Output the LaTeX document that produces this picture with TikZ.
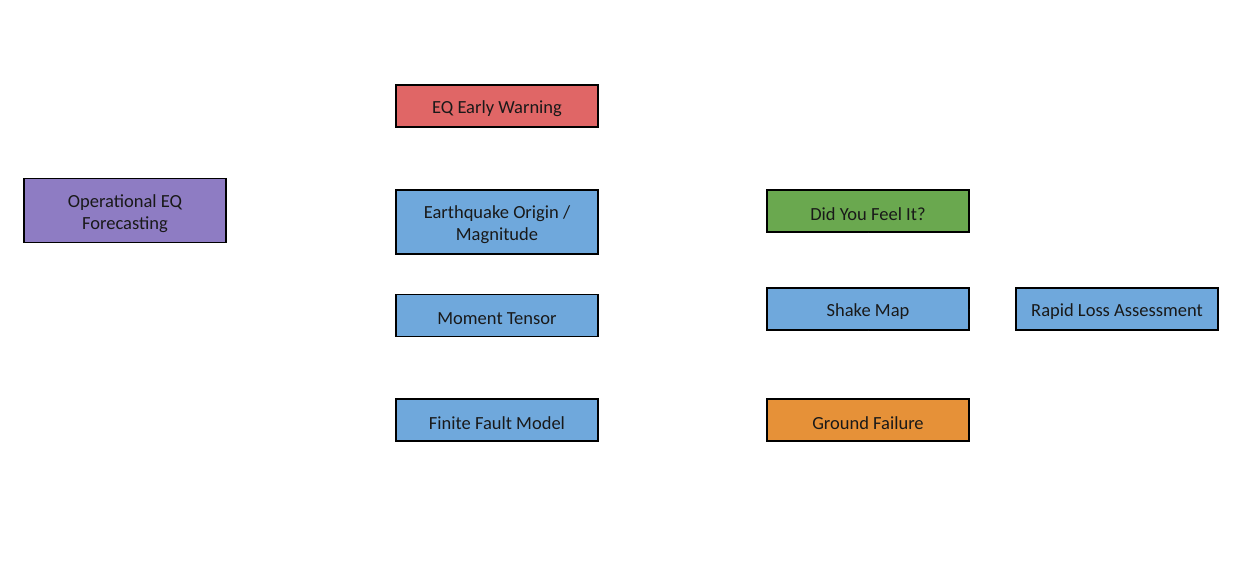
\documentclass[tikz,border=0pt]{standalone}
\usepackage{fontspec}
\setmainfont{Carlito}
\definecolor{cred}{HTML}{E06666}
\definecolor{cpurple}{HTML}{8E7CC3}
\definecolor{cblue}{HTML}{6FA8DC}
\definecolor{cgreen}{HTML}{6AA84F}
\definecolor{corange}{HTML}{E69138}
\begin{document}
\begin{tikzpicture}[x=1pt,y=-1pt,
  box/.style={draw=black,line width=1.1pt,minimum width=202pt,inner sep=0pt},
  short/.style={box,minimum height=42pt},
  tall/.style={box,minimum height=64pt},
  txt/.style={align=center,font=\fontsize{18.5}{22}\selectfont,inner sep=0pt,text=black!90},
  hidden/.style={draw=white,line width=0.8pt}]
\useasboundingbox (0,0) rectangle (1234,587);
\fill[white] (0,0) rectangle (1234,587);
\node[short,fill=cred] (ew) at (497,106) {};
\node[tall,fill=cpurple] (oef) at (125,210.5) {};
\node[tall,fill=cblue] (origin) at (497,222) {};
\node[short,fill=cblue] (mt) at (497,315.5) {};
\node[short,fill=cblue] (ff) at (497,420) {};
\node[short,fill=cgreen] (dyfi) at (868,211) {};
\node[short,fill=cblue] (sm) at (868,309) {};
\node[short,fill=cblue] (pager) at (1117,309) {};
\node[short,fill=corange] (gf) at (868,420) {};
\node[txt] (ewt) at ([yshift=-3pt]ew.center) {EQ Early Warning};
\node[txt] (oeft) at ([yshift=-3pt]oef.center) {Operational EQ\\Forecasting};
\node[txt] (origint) at ([yshift=-3pt]origin.center) {Earthquake Origin /\\Magnitude};
\node[txt] (mtt) at ([yshift=-3pt]mt.center) {Moment Tensor};
\node[txt] (fft) at ([yshift=-3pt]ff.center) {Finite Fault Model};
\node[txt] (dyfit) at ([yshift=-3pt]dyfi.center) {Did You Feel It?};
\node[txt] (smt) at ([yshift=-3pt]sm.center) {Shake Map};
\node[txt] (pagert) at ([yshift=-3pt]pager.center) {Rapid Loss Assessment};
\node[txt] (gft) at ([yshift=-3pt]gf.center) {Ground Failure};
\draw[hidden] (dyfi.south) -- (sm.north);
\draw[hidden] (sm.east) -- (pager.west);
\draw[hidden] (sm.south) -- (gf.north);
\end{tikzpicture}
\end{document}
